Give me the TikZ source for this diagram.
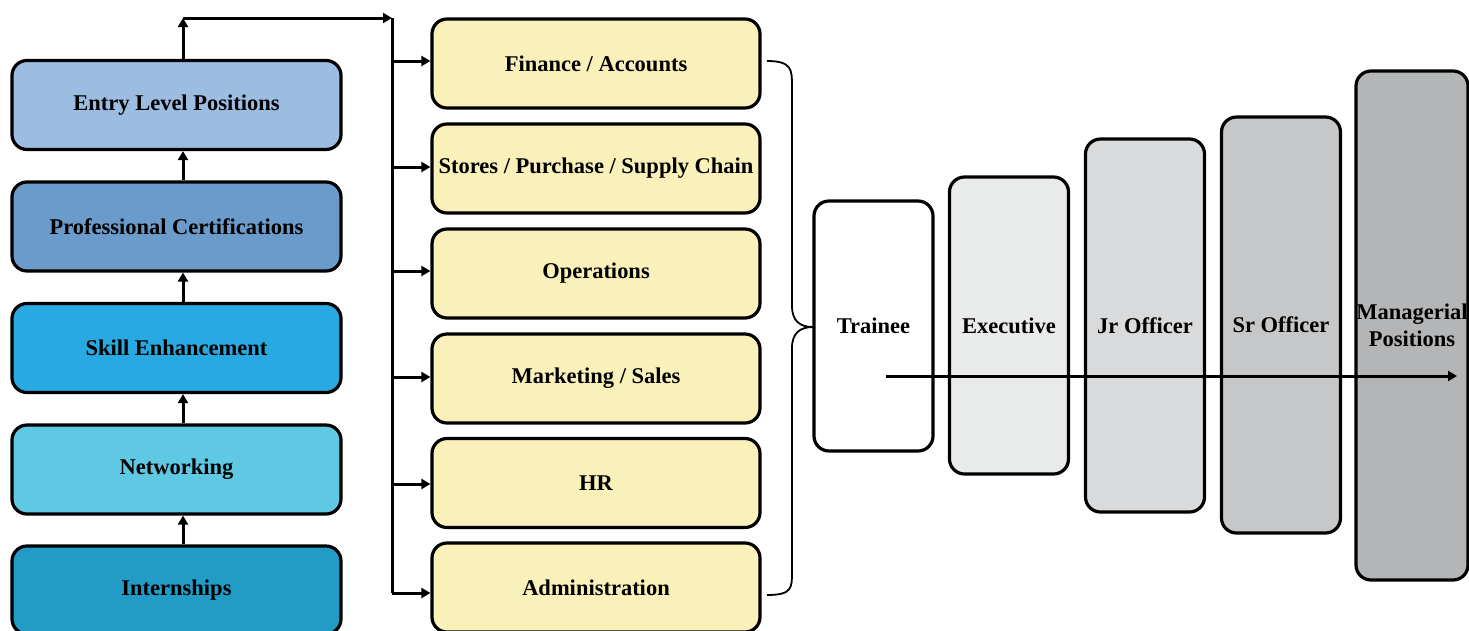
\documentclass[tikz,border=0pt]{standalone}
\usepackage{fontspec}
\setmainfont{Liberation Serif}
\usetikzlibrary{arrows.meta,calc}
\definecolor{cEntry}{HTML}{9DBCE2}
\definecolor{cProf}{HTML}{6B9BCB}
\definecolor{cSkill}{HTML}{29A9E1}
\definecolor{cNet}{HTML}{5FC8E2}
\definecolor{cIntern}{HTML}{229BC7}
\definecolor{cYel}{HTML}{FAF0BA}
\definecolor{cExec}{HTML}{E9EAEA}
\definecolor{cJr}{HTML}{D9DADC}
\definecolor{cSr}{HTML}{C6C7C9}
\definecolor{cMgr}{HTML}{B4B5B7}
\tikzset{
  box/.style={draw=black, line width=3.2pt, rounded corners=15pt, inner sep=0pt,
    font=\fontsize{22.5}{27}\selectfont\bfseries, align=center, text=black},
  leftbox/.style={box, minimum width=329pt, minimum height=89pt},
  yelbox/.style={box, fill=cYel, minimum width=328pt, minimum height=89pt},
  rungbox/.style={box, minimum width=119pt},
  arr/.style={line width=3pt, -{Triangle[length=9pt,width=10pt]}},
  plain/.style={line width=3pt},
}
\begin{document}
\begin{tikzpicture}[x=1pt,y=-1pt]
\useasboundingbox (0,0) rectangle (1469,630);
% left column
\node[leftbox, fill=cEntry] (entry) at (176.5,105) {Entry Level Positions};
\node[leftbox, fill=cProf] (prof) at (176.5,226.5) {Professional Certifications};
\node[leftbox, fill=cSkill] (skill) at (176.5,348) {Skill Enhancement};
\node[leftbox, fill=cNet] (net) at (176.5,469.5) {Networking};
\node[leftbox, fill=cIntern, minimum height=88pt] (intern) at (176.5,590) {Internships};
% vertical arrows
\coordinate (ax) at (183,0);
\draw[arr] (ax |- intern.north) -- (ax |- net.south);
\draw[arr] (ax |- net.north) -- (ax |- skill.south);
\draw[arr] (ax |- skill.north) -- (ax |- prof.south);
\draw[arr] (ax |- prof.north) -- (ax |- entry.south);
\coordinate (top) at (183,18);
\coordinate (trunktop) at (392,18);
\coordinate (trunkbot) at (392,593);
\draw[arr] (ax |- entry.north) -- (top);
\draw[arr] (top) -- (trunktop);
\draw[plain] (trunktop) -- (trunkbot);
% yellow boxes
\node[yelbox] (fin) at (596,63.5) {Finance / Accounts};
\node[yelbox] (stores) at (596,168.5) {Stores / Purchase / Supply Chain};
\node[yelbox] (ops) at (596,273.5) {Operations};
\node[yelbox] (mkt) at (596,378.5) {Marketing / Sales};
\node[yelbox] (hr) at (596,483) {HR};
\node[yelbox, minimum height=89pt] (admin) at (596,587.5) {Administration};
\foreach \n/\yy in {fin/61, stores/167, ops/271, mkt/377, hr/484, admin/593}{
  \draw[arr] (392,\yy) -- (\n.west |- {(0,\yy)});
}
% brace
\draw[line width=1.8pt] (767,61) .. controls (792,61) and (792,70) .. (792,86) -- (792,306)
  .. controls (792,321) and (800,327) .. (813,327)
  .. controls (800,327) and (792,333) .. (792,348) -- (792,572)
  .. controls (792,588) and (792,595) .. (767,595);
% career ladder
\node[rungbox, fill=white, minimum height=250pt] (trainee) at (873.5,326) {Trainee};
\node[rungbox, fill=cExec, minimum height=297pt] (exec) at (1009,325.5) {Executive};
\node[rungbox, fill=cJr, minimum height=373pt] (jr) at (1145,325.5) {Jr Officer};
\node[rungbox, fill=cSr, minimum height=416pt] (sr) at (1281,325) {Sr Officer};
\node[box, fill=cMgr, minimum width=112pt, minimum height=509pt] (mgr) at (1412,325.5) {Managerial\\Positions};
\coordinate (pstart) at (886,376);
\coordinate (pend) at (1457,376);
\draw[arr] (pstart) -- (pend);
\end{tikzpicture}
\end{document}
